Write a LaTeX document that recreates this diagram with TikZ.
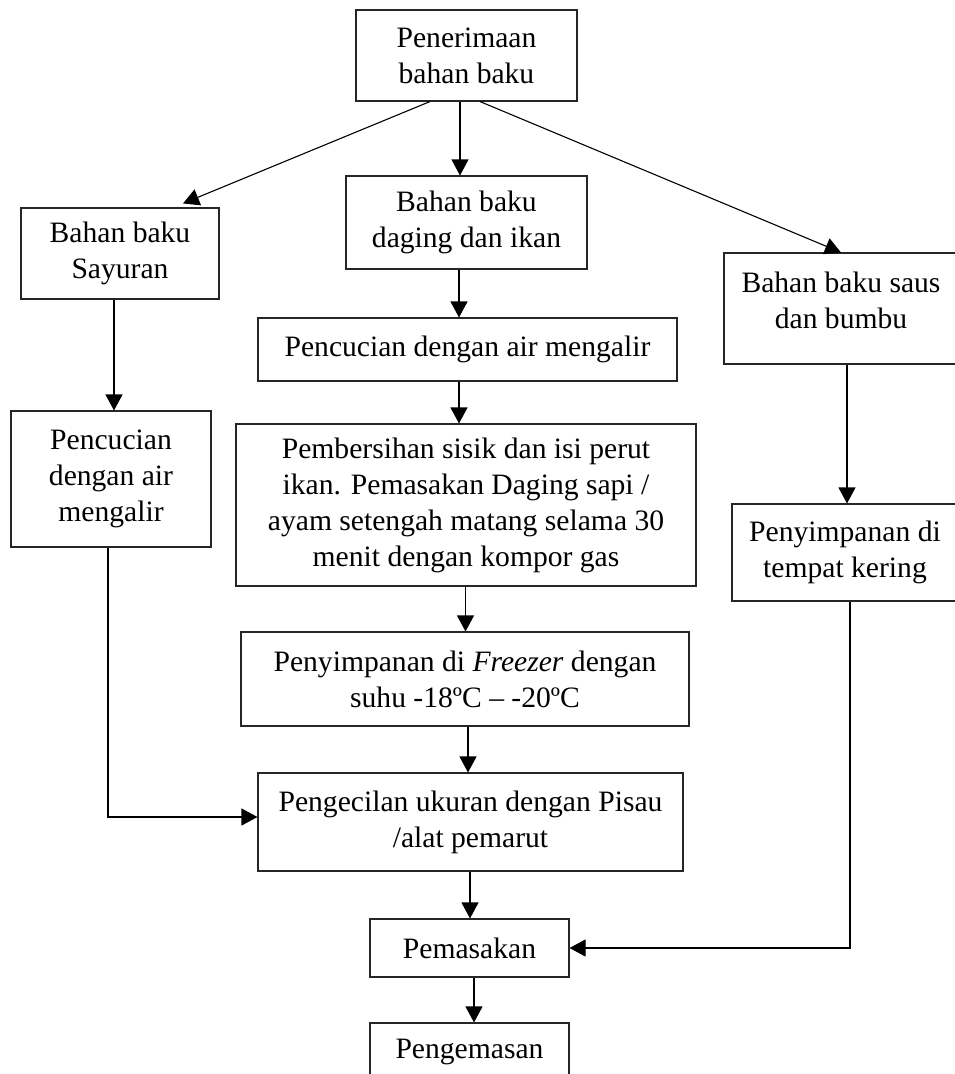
\documentclass[tikz,border=0pt]{standalone}
\usepackage{fontspec}
\setmainfont{Liberation Serif}
\usetikzlibrary{arrows.meta}

\begin{document}
\begin{tikzpicture}[
  x=1pt, y=-1pt,
  font=\fontsize{29.6}{36}\selectfont,
  proc/.style={draw=black!85, line width=1.1pt, align=center, inner sep=0pt},
  arrow/.style={-{Triangle[length=16pt, width=17pt]}, line width=1.1pt, draw=black}
]
\useasboundingbox (0,0) rectangle (955,1074);

% main column
\node[proc, minimum width=221pt, minimum height=91pt] (terima) at (466.5,55.5) {Penerimaan\\bahan baku};
\node[proc, minimum width=241pt, minimum height=93pt] (daging) at (466.5,222.5) {Bahan baku\\daging dan ikan};
\node[proc, minimum width=419pt, minimum height=63pt] (cucidaging) at (467.5,349.5) {Pencucian dengan air mengalir};
\node[proc, minimum width=460pt, minimum height=162pt] (bersih) at (466,505) {Pembersihan sisik dan isi perut\\ikan. Pemasakan Daging sapi /\\ayam setengah matang selama 30\\menit dengan kompor gas};
\node[proc, minimum width=448pt, minimum height=94pt] (freezer) at (465,679) {Penyimpanan di \textit{Freezer} dengan\\suhu -18ºC -- -20ºC};
\node[proc, minimum width=425pt, minimum height=98pt] (kecil) at (470.5,822) {Pengecilan ukuran dengan Pisau\\/alat pemarut};
\node[proc, minimum width=199pt, minimum height=58pt] (masak) at (469.5,948) {Pemasakan};
\node[proc, minimum width=199pt, minimum height=58pt] (kemas) at (469.5,1052) {Pengemasan};

% left column
\node[proc, minimum width=198pt, minimum height=91pt] (sayur) at (120,253.5) {Bahan baku\\Sayuran};
\node[proc, minimum width=200pt, minimum height=136pt] (cucisayur) at (111,479) {Pencucian\\dengan air\\mengalir};

% right column
\node[proc, minimum width=234pt, minimum height=111pt] (saus) at (841,308.5) {Bahan baku saus\\dan bumbu\rule[-16pt]{0pt}{0pt}};
\node[proc, minimum width=226pt, minimum height=97pt] (kering) at (845,552.5) {Penyimpanan di\\tempat kering};

% connectors
\draw[arrow] ([xshift=-6.5pt]terima.south) -- ([xshift=-6.5pt]daging.north);
\draw[arrow] ([xshift=-36.5pt]terima.south) -- ([xshift=63pt,yshift=4pt]sayur.north);
\draw[arrow] ([xshift=13.5pt]terima.south) -- (saus.north);
\draw[arrow] ([xshift=-7.5pt]daging.south) -- ([xshift=-8.5pt]cucidaging.north);
\draw[arrow] ([xshift=-8.5pt]cucidaging.south) -- ([xshift=-7pt]bersih.north);
\draw[arrow] ([xshift=-0.5pt]bersih.south) -- ([xshift=0.5pt]freezer.north);
\draw[arrow] ([xshift=3pt]freezer.south) -- ([xshift=-2.5pt]kecil.north);
\draw[arrow] ([xshift=-0.5pt]kecil.south) -- ([xshift=0.5pt]masak.north);
\draw[arrow] ([xshift=4.5pt]masak.south) -- ([xshift=4.5pt]kemas.north);
\draw[arrow] ([xshift=-6pt]sayur.south) -- ([xshift=3pt]cucisayur.north);
\draw[arrow] ([xshift=-3pt]cucisayur.south) |- ([yshift=5pt]kecil.west);
\draw[arrow] ([xshift=6pt]saus.south) -- ([xshift=2pt]kering.north);
\draw[arrow] ([xshift=5pt]kering.south) |- (masak.east);
\end{tikzpicture}
\end{document}
